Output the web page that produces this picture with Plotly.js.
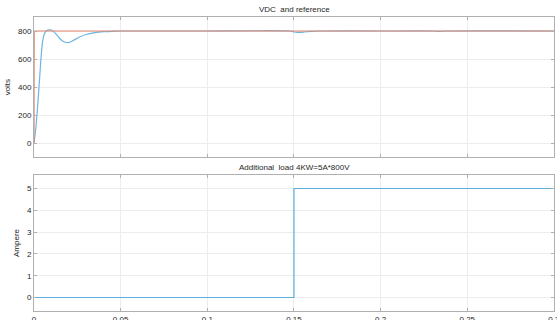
<!DOCTYPE html>
<html><head><meta charset="utf-8">
<script src="https://cdn.plot.ly/plotly-3.0.1.min.js"></script>
<style>html,body{margin:0;padding:0;background:#fff;}#c{width:557px;height:320px;}</style>
</head><body><div id="c"></div>
<script>
// VDC measured (blue)
const tVdc = [0, 0.001, 0.002, 0.003, 0.004, 0.005, 0.006, 0.007, 0.008, 0.0095, 0.011, 0.013, 0.015, 0.017, 0.019, 0.021, 0.023, 0.026, 0.03, 0.035, 0.04, 0.045, 0.05, 0.06, 0.1, 0.148, 0.15, 0.152, 0.156, 0.16, 0.165, 0.2, 0.23, 0.234, 0.238, 0.3];
const vdc  = [0, 100, 250, 420, 600, 730, 780, 800, 806, 808, 800, 775, 745, 725, 718, 722, 735, 755, 775, 788, 795, 798, 800, 800, 800, 800, 793, 790, 793, 797, 800, 800, 800, 797, 800, 800];
// Reference (red)
const tRef = [0, 0.0001, 0.3];
const vRef = [0, 800, 800];
// Additional load current
const tLoad = [0, 0.15, 0.3];
const iLoad = [0, 5, 5];

const xTicks = [0, 0.05, 0.1, 0.15, 0.2, 0.25, 0.3];
const xTickText = ['0', '0.05', '0.1', '0.15', '0.2', '0.25', '0.3'];
const vTicks = [0, 200, 400, 600, 800];
const iTicks = [0, 1, 2, 3, 4, 5];

const font = {family: 'Liberation Sans, Arial, sans-serif', size: 8, color: '#262626'};
const axBase = {
  showline: true, linecolor: '#b0b0b0', linewidth: 1, mirror: 'ticks',
  ticks: 'inside', ticklen: 3, tickcolor: '#b0b0b0',
  showgrid: true, gridcolor: '#ececec', gridwidth: 1, zeroline: false,
  tickfont: font, ticklabeloverflow: 'allow'
};

const traces = [
  {x: tVdc, y: vdc, xaxis: 'x', yaxis: 'y', mode: 'lines', line: {color: '#6cb4e4', width: 1.2, shape: 'spline', smoothing: 0.6}, hoverinfo: 'none'},
  {x: tRef, y: vRef, xaxis: 'x', yaxis: 'y', mode: 'lines', line: {color: '#e8866a', width: 1.2}, hoverinfo: 'none'},
  {x: tLoad, y: iLoad, xaxis: 'x2', yaxis: 'y2', mode: 'lines', line: {color: '#5aaee0', width: 1.2, shape: 'hv'}, hoverinfo: 'none'}
];

const layout = {
  width: 557, height: 320,
  margin: {l: 34, r: 3, t: 17, b: 9},
  paper_bgcolor: '#ffffff', plot_bgcolor: '#ffffff',
  showlegend: false, font: font,
  xaxis: Object.assign({}, axBase, {domain: [0, 1], range: [0, 0.30005], tickvals: xTicks, showticklabels: false, anchor: 'y'}),
  yaxis: Object.assign({}, axBase, {domain: [0.523, 1], range: [-100, 900], tickvals: vTicks, anchor: 'x',
    title: {text: 'volts', font: font, standoff: 6}}),
  xaxis2: Object.assign({}, axBase, {domain: [0, 1], range: [0, 0.30005], tickvals: xTicks, ticktext: xTickText, anchor: 'y2'}),
  yaxis2: Object.assign({}, axBase, {domain: [0, 0.4626], range: [-0.62, 5.62], tickvals: iTicks, anchor: 'x2',
    title: {text: 'Ampere', font: font, standoff: 6}}),
  annotations: [
    {text: 'VDC  and reference', xref: 'paper', yref: 'paper', x: 0.5, y: 1, yshift: 1, xanchor: 'center', yanchor: 'bottom', showarrow: false, font: font},
    {text: 'Additional  load 4KW=5A*800V', xref: 'paper', yref: 'paper', x: 0.5, y: 0.4626, yshift: 1, xanchor: 'center', yanchor: 'bottom', showarrow: false, font: font}
  ]
};

Plotly.newPlot('c', traces, layout, {staticPlot: true, displayModeBar: false});
</script></body></html>
